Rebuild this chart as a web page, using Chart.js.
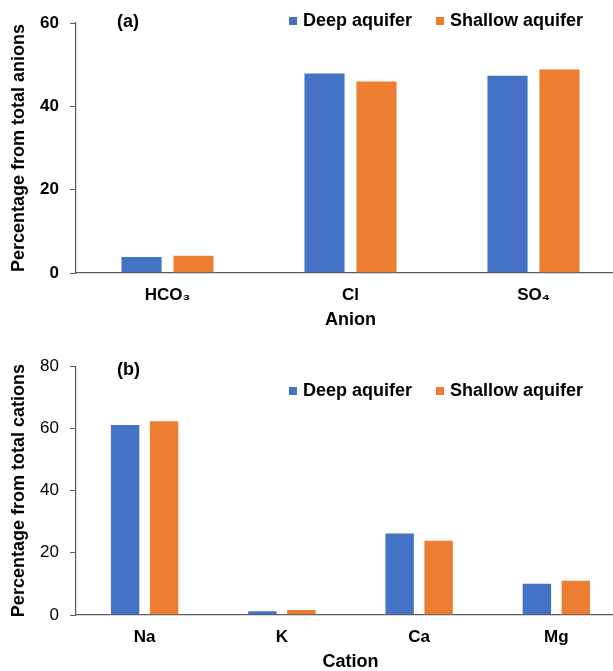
<!DOCTYPE html>
<html>
<head>
<meta charset="utf-8">
<script src="https://cdn.jsdelivr.net/npm/chart.js@4.4.1/dist/chart.umd.min.js"></script>
<style>
    html, body { margin: 0; padding: 0; background: #fff; overflow: hidden; width: 613px; height: 671px; }
    canvas { position: absolute; left: 0; }
    #anion-chart { top: 0; }
    #cation-chart { top: 345px; }
</style>
</head>
<body>
<canvas id="anion-chart" width="640" height="345"></canvas>
<canvas id="cation-chart" width="640" height="330"></canvas>
<script>
// Panel (a) - anions
const anionLabels = ['HCO\u2083', 'Cl', 'SO\u2084'];
const anionDeep = [4.1, 48.1, 47.6];
const anionShallow = [4.4, 46.2, 49.1];
const anionTicks = [0, 20, 40, 60];

// Panel (b) - cations
const cationLabels = ['Na', 'K', 'Ca', 'Mg'];
const cationDeep = [61.4, 1.5, 26.5, 10.4];
const cationShallow = [62.6, 1.9, 24.2, 11.3];
const cationTicks = [0, 20, 40, 60, 80];

const seriesNames = ['Deep aquifer', 'Shallow aquifer'];

document.addEventListener('DOMContentLoaded', () => {
    const FONT = "'Liberation Sans', Arial, sans-serif";
    const BLUE = '#4472C4';
    const ORANGE = '#ED7D31';
    const AXIS = '#595959';

    // legend + panel letter drawn inside the plot, like the Excel original
    const panelDecor = {
        id: 'panelDecor',
        afterDraw(chart, args, opts) {
            const c = chart.ctx;
            c.save();
            c.font = `bold 18px ${FONT}`;
            c.fillStyle = '#000';
            c.textBaseline = 'middle';
            c.textAlign = 'left';
            c.fillText(opts.letter, opts.letterX, opts.letterY);
            chart.data.datasets.forEach((ds, i) => {
                const x = opts.legendX[i];
                c.fillStyle = ds.backgroundColor;
                c.fillRect(x, opts.legendY - 4, 8, 8);
                c.fillStyle = '#000';
                c.fillText(ds.label, x + 14, opts.legendY);
            });
            c.restore();
        }
    };

    function makeChart(canvasId, cfg) {
        const ctx = document.getElementById(canvasId).getContext('2d');
        return new Chart(ctx, {
            type: 'bar',
            data: {
                labels: cfg.labels,
                datasets: [{
                    label: seriesNames[0],
                    data: cfg.deep,
                    backgroundColor: BLUE,
                    borderColor: 'rgba(255,255,255,0.55)',
                    borderWidth: 1,
                    categoryPercentage: 0.568,
                    barPercentage: cfg.barPct
                }, {
                    label: seriesNames[1],
                    data: cfg.shallow,
                    backgroundColor: ORANGE,
                    borderColor: 'rgba(255,255,255,0.55)',
                    borderWidth: 1,
                    categoryPercentage: 0.568,
                    barPercentage: cfg.barPct
                }]
            },
            options: {
                responsive: false,
                animation: false,
                devicePixelRatio: 1,
                layout: {
                    padding: { top: cfg.padTop, right: 15, left: 0, bottom: 0 }
                },
                plugins: {
                    legend: { display: false },
                    tooltip: { enabled: false },
                    panelDecor: cfg.decor
                },
                scales: {
                    x: {
                        grid: { display: false, drawTicks: false },
                        border: { display: true, color: AXIS, width: 1.2 },
                        ticks: {
                            color: '#000',
                            padding: 12,
                            font: { family: FONT, size: 17, weight: 'bold' }
                        },
                        title: {
                            display: true,
                            text: cfg.xTitle,
                            color: '#000',
                            font: { family: FONT, size: 18, weight: 'bold' },
                            padding: { top: 4, bottom: cfg.titlePadBottom }
                        },
                        afterFit: (scale) => { scale.height = cfg.xHeight; }
                    },
                    y: {
                        min: cfg.yTicks[0],
                        max: cfg.yTicks[cfg.yTicks.length - 1],
                        afterBuildTicks: (scale) => {
                            scale.ticks = cfg.yTicks.map(v => ({ value: v }));
                        },
                        grid: {
                            display: true,
                            drawOnChartArea: false,
                            drawTicks: true,
                            tickLength: 6,
                            color: AXIS
                        },
                        border: { display: true, color: AXIS, width: 1.2 },
                        ticks: {
                            color: '#000',
                            padding: 11,
                            font: { family: FONT, size: 17, weight: cfg.yTickWeight }
                        },
                        title: {
                            display: true,
                            text: cfg.yTitle,
                            color: '#000',
                            font: { family: FONT, size: 18, weight: 'bold' },
                            padding: { top: 8, bottom: 0 }
                        },
                        afterFit: (scale) => { scale.width = 76; }
                    }
                }
            },
            plugins: [panelDecor]
        });
    }

    makeChart('anion-chart', {
        labels: anionLabels,
        deep: anionDeep,
        shallow: anionShallow,
        yTicks: anionTicks,
        barPct: 0.81,
        padTop: 23,
        xHeight: 72,
        titlePadBottom: 14,
        xTitle: 'Anion',
        yTitle: 'Percentage from total anions',
        yTickWeight: 'bold',
        decor: { letter: '(a)', letterX: 117, letterY: 22, legendX: [289, 436], legendY: 21 }
    });

    makeChart('cation-chart', {
        labels: cationLabels,
        deep: cationDeep,
        shallow: cationShallow,
        yTicks: cationTicks,
        barPct: 0.78,
        padTop: 19,
        xHeight: 60,
        titlePadBottom: 2,
        xTitle: 'Cation',
        yTitle: 'Percentage from total cations',
        yTickWeight: 'normal',
        decor: { letter: '(b)', letterX: 117, letterY: 25, legendX: [289, 436], legendY: 46 }
    });
});
</script>
</body>
</html>
